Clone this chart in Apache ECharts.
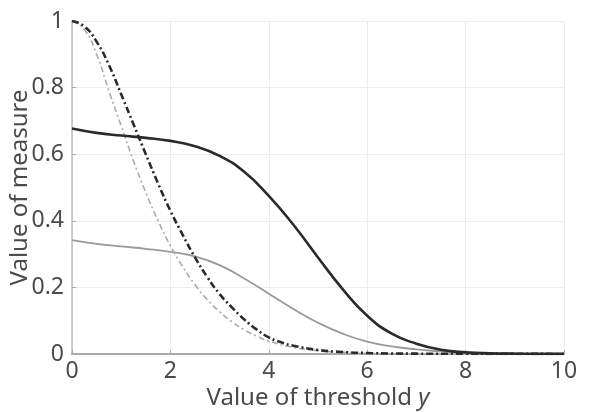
<!DOCTYPE html>
<html><head><meta charset="utf-8">
<script src="https://cdn.jsdelivr.net/npm/echarts@6/dist/echarts.min.js"></script>
<style>html,body{margin:0;padding:0;background:#fff}#c{width:594px;height:412px}</style>
</head><body><div id="c"></div>
<script>
const xTicks = [0, 2, 4, 6, 8, 10];
const yTicks = [0, 0.2, 0.4, 0.6, 0.8, 1];
// solid dark
const darkSolid = [[0,0.677],[0.5,0.664],[1,0.656],[1.5,0.649],[2,0.64],[2.5,0.624],[3,0.595],[3.5,0.547],[4,0.475],[4.5,0.388],[5,0.29],[5.5,0.195],[6,0.115],[6.5,0.061],[7,0.031],[7.5,0.013],[8,0.005],[8.5,0.002],[9,0.001],[9.5,0.0005],[10,0.0003]];
// dash-dot dark
const darkDash = [[0,1.0],[0.25,0.984],[0.5,0.938],[0.75,0.868],[1,0.78],[1.25,0.69],[1.5,0.6],[1.75,0.512],[2,0.43],[2.25,0.358],[2.5,0.29],[2.75,0.231],[3,0.18],[3.25,0.14],[3.5,0.104],[3.75,0.074],[4,0.05],[4.25,0.035],[4.5,0.025],[5,0.012],[5.5,0.006],[6,0.003],[6.5,0.0015],[7,0.001],[8,0.0005],[9,0.0003],[10,0.0002]];
// dash-dot light
const lightDash = [[0,1.0],[0.25,0.975],[0.5,0.9],[0.75,0.79],[1,0.685],[1.25,0.58],[1.5,0.485],[1.75,0.4],[2,0.325],[2.25,0.262],[2.5,0.208],[2.75,0.163],[3,0.127],[3.25,0.097],[3.5,0.073],[3.75,0.054],[4,0.039],[4.5,0.02],[5,0.01],[5.5,0.005],[6,0.002],[7,0.001],[8,0.0005],[9,0.0003],[10,0.0002]];
// solid light
const lightSolid = [[0,0.342],[0.5,0.331],[1,0.323],[1.5,0.316],[2,0.307],[2.5,0.293],[3,0.267],[3.5,0.227],[4,0.181],[4.5,0.135],[5,0.094],[5.5,0.061],[6,0.037],[6.5,0.023],[7,0.014],[7.5,0.008],[8,0.004],[8.5,0.002],[9,0.001],[10,0.0003]];

const FONT = 'Noto Sans';
const TXT = '#4a4a4a';
const chart = echarts.init(document.getElementById('c'), null, {renderer: 'canvas'});
const line = (data, color, width, type, z) => ({
  type: 'line', data, smooth: 0.5, showSymbol: false,
  lineStyle: {color, width, type}, z
});
chart.setOption({
  animation: false,
  backgroundColor: '#fff',
  grid: {left: 72, right: 30, top: 21, bottom: 58, outerBoundsMode: 'none', containLabel: false},
  xAxis: {
    type: 'value', min: 0, max: 10, interval: 2,
    name: 'Value of threshold {i|y}', nameLocation: 'middle', nameGap: 32, nameMoveOverlap: false,
    nameTextStyle: {fontFamily: FONT, fontSize: 24, color: TXT,
      rich: {i: {fontFamily: FONT, fontSize: 24, fontStyle: 'italic', color: TXT}}},
    axisLine: {show: true, lineStyle: {color: '#aaa', width: 2}},
    axisTick: {show: true, inside: true, length: 4, lineStyle: {color: '#aaa'}},
    axisLabel: {fontFamily: FONT, fontSize: 23, color: TXT, margin: 6,
      formatter: v => xTicks.includes(v) ? String(v) : ''},
    splitLine: {show: true, lineStyle: {color: '#ececec', width: 1}}
  },
  yAxis: {
    type: 'value', min: 0, max: 1, interval: 0.2,
    name: 'Value of measure', nameLocation: 'middle', nameGap: 40, nameMoveOverlap: false,
    nameTextStyle: {fontFamily: FONT, fontSize: 24, color: TXT},
    axisLine: {show: true, lineStyle: {color: '#bbb', width: 1.5}},
    axisTick: {show: true, inside: true, length: 4, lineStyle: {color: '#aaa'}},
    axisLabel: {fontFamily: FONT, fontSize: 23, color: TXT, margin: 8,
      formatter: v => { const t = yTicks.find(k => Math.abs(k - v) < 1e-9); return t === undefined ? '' : String(t); }},
    splitLine: {show: true, lineStyle: {color: '#ececec', width: 1}}
  },
  series: [
    line(lightSolid, '#999', 1.8, 'solid', 2),
    line(lightDash, '#aaa', 1.6, [6, 3, 2, 3], 3),
    line(darkSolid, '#2a2a2a', 2.6, 'solid', 4),
    line(darkDash, '#2a2a2a', 2.6, [7, 3, 2, 3], 5)
  ]
});
</script></body></html>
